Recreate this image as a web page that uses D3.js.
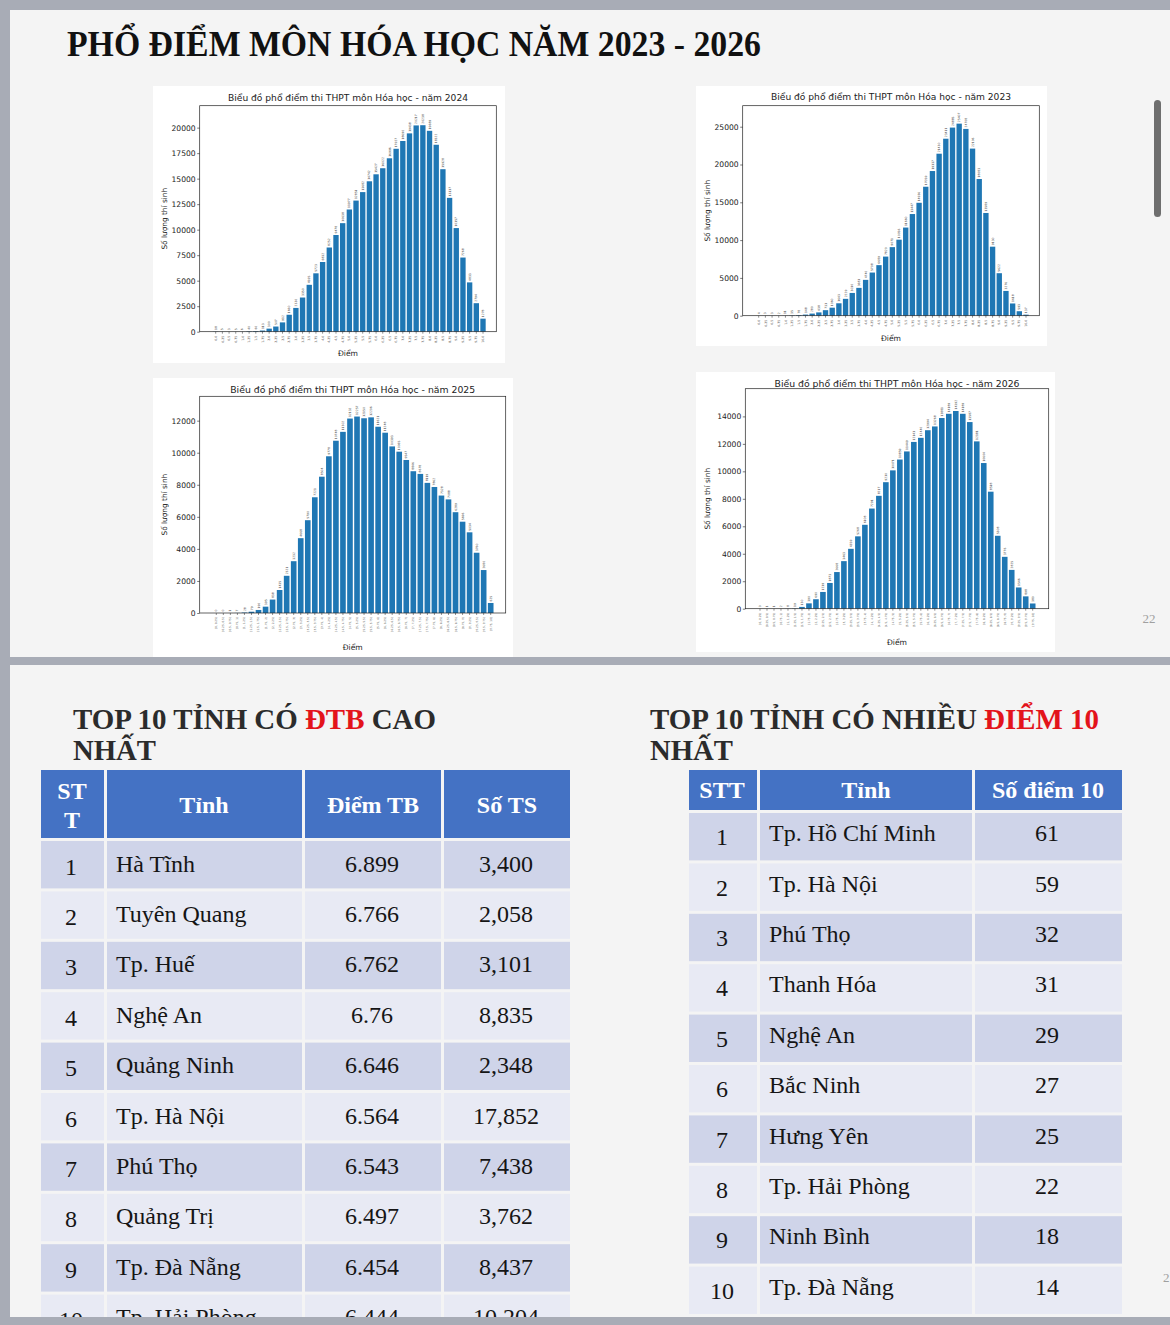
<!DOCTYPE html>
<html>
<head>
<meta charset="utf-8">
<script src="https://cdn.jsdelivr.net/npm/d3@7"></script>
<style>
body{margin:0;background:#a8acb6;}
svg{display:block;}
</style>
</head>
<body>
<svg id="page"></svg>
<script>
// ---- data ----
const scoreLabels = ["0.0","0.25","0.5","0.75","1.0","1.25","1.5","1.75","2.0","2.25","2.5","2.75","3.0","3.25","3.5","3.75","4.0","4.25","4.5","4.75","5.0","5.25","5.5","5.75","6.0","6.25","6.5","6.75","7.0","7.25","7.5","7.75","8.0","8.25","8.5","8.75","9.0","9.25","9.5","9.75","10.0"];
const binLabels = ["[0, 0.25)","[0.25, 0.5)","[0.5, 0.75)","[0.75, 1)","[1, 1.25)","[1.25, 1.5)","[1.5, 1.75)","[1.75, 2)","[2, 2.25)","[2.25, 2.5)","[2.5, 2.75)","[2.75, 3)","[3, 3.25)","[3.25, 3.5)","[3.5, 3.75)","[3.75, 4)","[4, 4.25)","[4.25, 4.5)","[4.5, 4.75)","[4.75, 5)","[5, 5.25)","[5.25, 5.5)","[5.5, 5.75)","[5.75, 6)","[6, 6.25)","[6.25, 6.5)","[6.5, 6.75)","[6.75, 7)","[7, 7.25)","[7.25, 7.5)","[7.5, 7.75)","[7.75, 8)","[8, 8.25)","[8.25, 8.5)","[8.5, 8.75)","[8.75, 9)","[9, 9.25)","[9.25, 9.5)","[9.5, 9.75)","[9.75, 10]"];

const counts2024 = [18,5,3,5,6,40,60,113,300,507,912,1660,2330,3350,4595,5723,6832,8252,9478,10638,11977,12851,13682,14742,15427,16022,16996,17927,18690,19438,20217,20238,19689,18322,15928,13117,10157,7268,4833,2794,1278];
const counts2023 = [4,3,3,2,11,35,78,148,280,438,731,1060,1643,2229,3010,3681,4740,5708,6689,7820,9071,10056,11660,13447,14936,17059,19137,21430,23411,24885,25407,24708,22106,18083,13589,9130,5622,3276,1618,593,137];
const counts2025 = [0,0,1,7,28,79,190,395,838,1435,2321,3232,4668,5790,7221,8504,9778,10748,11302,12132,12257,12150,12206,11621,11248,10393,10065,9547,8846,8678,8119,7862,7328,7088,6289,5696,5034,3760,2680,625];
const counts2026 = [0,1,1,2,8,19,130,390,690,1219,1873,2668,3463,4359,5268,6108,7291,8217,9210,10071,10859,11449,12141,12440,12994,13268,13881,14189,14392,14189,13587,12181,10604,8518,5308,3776,2825,1546,898,380];

const ticks2024 = [0,2500,5000,7500,10000,12500,15000,17500,20000];
const ticks2023 = [0,5000,10000,15000,20000,25000];
const ticks2025 = [0,2000,4000,6000,8000,10000,12000];
const ticks2026 = [0,2000,4000,6000,8000,10000,12000,14000];

const avgProvinces = ["Hà Tĩnh","Tuyên Quang","Tp. Huế","Nghệ An","Quảng Ninh","Tp. Hà Nội","Phú Thọ","Quảng Trị","Tp. Đà Nẵng","Tp. Hải Phòng"];
const avgScores = [6.899,6.766,6.762,6.76,6.646,6.564,6.543,6.497,6.454,6.444];
const avgCandidates = [3400,2058,3101,8835,2348,17852,7438,3762,8437,10204];

const perfectProvinces = ["Tp. Hồ Chí Minh","Tp. Hà Nội","Phú Thọ","Thanh Hóa","Nghệ An","Bắc Ninh","Hưng Yên","Tp. Hải Phòng","Ninh Bình","Tp. Đà Nẵng"];
const perfectCounts = [61,59,32,31,29,27,25,22,18,14];

// ---- page ----
const W = 1170, H = 1325;
const svg = d3.select("#page").attr("width", W).attr("height", H);
svg.append("rect").attr("width", W).attr("height", H).attr("fill", "#a8acb6");
svg.append("rect").attr("x", 10).attr("y", 10).attr("width", 1160).attr("height", 647).attr("fill", "#f4f4f4");
svg.append("rect").attr("x", 10).attr("y", 665).attr("width", 1160).attr("height", 652).attr("fill", "#f4f4f4");

// scrollbar and page number of slide 1
svg.append("rect").attr("x", 1154).attr("y", 100).attr("width", 7).attr("height", 117).attr("rx", 3.5).attr("fill", "#6e6e6e");
svg.append("text").attr("x", 1149).attr("y", 623).attr("text-anchor", "middle")
  .attr("font-family", "Liberation Serif").attr("font-size", 13).attr("fill", "#a0a0a0").text("22");

svg.append("text").attr("x", 67).attr("y", 56)
  .attr("font-family", "Liberation Serif").attr("font-weight", "bold").attr("font-size", 35)
  .attr("fill", "#111").attr("textLength", 694).attr("lengthAdjust", "spacingAndGlyphs")
  .text("PHỔ ĐIỂM MÔN HÓA HỌC NĂM 2023 - 2026");

// ---- histograms ----
const charts = [
  {title: "Biểu đồ phổ điểm thi THPT môn Hóa học - năm 2024", values: counts2024, labels: scoreLabels, ticks: ticks2024,
   box: [153, 86, 352, 277], frame: [199.7, 105.7, 496.3, 331.7], yMax: 22150, c: [215.7, 483], titleY: 97.7, titleW: 240, xlabY: 353, ylabX: 164, tickFs: 3.2},
  {title: "Biểu đồ phổ điểm thi THPT môn Hóa học - năm 2023", values: counts2023, labels: scoreLabels, ticks: ticks2023,
   box: [696, 86, 351, 260], frame: [742.7, 105.7, 1039.3, 315.7], yMax: 27780, c: [758.7, 1026], titleY: 96.5, titleW: 240, xlabY: 338, ylabX: 707, tickFs: 3.2},
  {title: "Biểu đồ phổ điểm thi THPT môn Hóa học - năm 2025", values: counts2025, labels: binLabels, ticks: ticks2025,
   box: [153, 378, 360, 279], frame: [199.7, 396.3, 505.7, 613], yMax: 13520, c: [216.3, 490.7], titleY: 389.7, titleW: 245, xlabY: 647, ylabX: 164, tickFs: 2.8},
  {title: "Biểu đồ phổ điểm thi THPT môn Hóa học - năm 2026", values: counts2026, labels: binLabels, ticks: ticks2026,
   box: [696, 372, 359, 280], frame: [745.3, 388.7, 1048.7, 608.7], yMax: 16016, c: [760, 1032.7], titleY: 383.7, titleW: 245, xlabY: 642, ylabX: 707, tickFs: 2.8}
];

function drawHist(cfg) {
  const g = svg.append("g").attr("font-family", "DejaVu Sans");
  const [bx, by, bw, bh] = cfg.box;
  g.append("rect").attr("x", bx).attr("y", by).attr("width", bw).attr("height", bh).attr("fill", "#fff");

  const [l, t, r, b] = cfg.frame;
  const n = cfg.values.length;
  const step = (cfg.c[1] - cfg.c[0]) / (n - 1);
  const x = d3.scaleBand().domain(cfg.labels)
    .range([cfg.c[0] - step / 2, cfg.c[1] + step / 2])
    .paddingInner(0.2).paddingOuter(0.1);
  const y = d3.scaleLinear().domain([0, cfg.yMax]).range([b, t]);

  g.selectAll("rect.bar").data(cfg.values).join("rect").attr("class", "bar")
    .attr("x", (d, i) => x(cfg.labels[i]))
    .attr("width", x.bandwidth())
    .attr("y", d => y(d))
    .attr("height", d => b - y(d))
    .attr("fill", "#1f77b4");

  // count on top of each bar
  g.selectAll("text.val").data(cfg.values).join("text").attr("class", "val")
    .attr("transform", (d, i) => "translate(" + (x(cfg.labels[i]) + x.bandwidth() / 2) + "," + (y(d) - 1.5) + ") rotate(-90)")
    .attr("dy", "0.35em")
    .attr("font-size", 3).attr("fill", "#444")
    .text(d => d);

  g.append("rect").attr("x", l).attr("y", t).attr("width", r - l).attr("height", b - t)
    .attr("fill", "none").attr("stroke", "#222").attr("stroke-width", 0.7);

  const ya = g.append("g").attr("transform", "translate(" + l + ",0)")
    .call(d3.axisLeft(y).tickValues(cfg.ticks).tickSize(2.5).tickPadding(1.5).tickFormat(d3.format("d")));
  ya.select(".domain").remove();
  ya.selectAll("line").attr("stroke", "#222").attr("stroke-width", 0.6);
  ya.selectAll("text").attr("font-size", 7.6).attr("fill", "#222").attr("font-family", "DejaVu Sans");

  const xa = g.append("g").attr("transform", "translate(0," + b + ")")
    .call(d3.axisBottom(x).tickSize(2).tickPadding(1));
  xa.select(".domain").remove();
  xa.selectAll("line").attr("stroke", "#222").attr("stroke-width", 0.5);
  xa.selectAll("text")
    .attr("transform", "rotate(-90)")
    .attr("x", -4).attr("y", 0).attr("dy", "0.35em")
    .attr("text-anchor", "end")
    .attr("font-size", cfg.tickFs).attr("fill", "#555").attr("font-family", "DejaVu Sans");

  g.append("text").attr("x", (l + r) / 2).attr("y", cfg.titleY).attr("dy", "0.35em")
    .attr("text-anchor", "middle").attr("font-size", 8.8).attr("fill", "#222")
    .attr("textLength", cfg.titleW).attr("lengthAdjust", "spacingAndGlyphs")
    .text(cfg.title);

  g.append("text").attr("x", (l + r) / 2).attr("y", cfg.xlabY).attr("dy", "0.35em")
    .attr("text-anchor", "middle").attr("font-size", 7.6).attr("fill", "#222").text("Điểm");

  g.append("text").attr("transform", "translate(" + cfg.ylabX + "," + ((t + b) / 2) + ") rotate(-90)")
    .attr("dy", "0.35em").attr("text-anchor", "middle").attr("font-size", 7.4).attr("fill", "#222")
    .text("Số lượng thí sinh");
}
charts.forEach(drawHist);

// ---- slide 2: headings ----
function heading(xp, parts, len) {
  const t = svg.append("text").attr("x", xp).attr("y", 729)
    .attr("font-family", "Liberation Serif").attr("font-weight", "bold").attr("font-size", 28.5)
    .attr("fill", "#2b2b2b").attr("textLength", len).attr("lengthAdjust", "spacingAndGlyphs");
  parts.forEach(p => t.append("tspan").attr("fill", p[1] ? "#e3131b" : "#2b2b2b").text(p[0]));
  svg.append("text").attr("x", xp).attr("y", 760)
    .attr("font-family", "Liberation Serif").attr("font-weight", "bold").attr("font-size", 28.5)
    .attr("fill", "#2b2b2b").attr("textLength", 83).attr("lengthAdjust", "spacingAndGlyphs").text("NHẤT");
}
heading(73, [["TOP 10 TỈNH CÓ ", false], ["ĐTB", true], [" CAO", false]], 363);
heading(650, [["TOP 10 TỈNH CÓ NHIỀU ", false], ["ĐIỂM 10", true]], 449);

// ---- tables ----
const rowStep = 50.4;
const darkRow = "#cfd4e9", lightRow = "#e8eaf4", headFill = "#4472c4";
const serif = "Liberation Serif";

function cellText(xp, yc, txt, anchor, bold, color, size) {
  svg.append("text").attr("x", xp).attr("y", yc + size * 0.34)
    .attr("text-anchor", anchor).attr("font-family", serif)
    .attr("font-weight", bold ? "bold" : "normal").attr("font-size", size)
    .attr("fill", color).text(txt);
}

// left table: average score
const lc = [[41, 104], [107, 302], [305, 441], [444, 570]];
lc.forEach(c => svg.append("rect").attr("x", c[0]).attr("y", 770).attr("width", c[1] - c[0]).attr("height", 68).attr("fill", headFill));
cellText(72, 791, "ST", "middle", true, "#fff", 24);
cellText(72, 820, "T", "middle", true, "#fff", 24);
cellText(204, 805, "Tỉnh", "middle", true, "#fff", 24);
cellText(373, 805, "Điểm TB", "middle", true, "#fff", 24);
cellText(507, 805, "Số TS", "middle", true, "#fff", 24);
const fmtThousands = d3.format(",");
avgProvinces.forEach((name, i) => {
  const top = 841 + i * rowStep;
  lc.forEach(c => svg.append("rect").attr("x", c[0]).attr("y", top).attr("width", c[1] - c[0]).attr("height", rowStep - 3)
    .attr("fill", i % 2 === 0 ? darkRow : lightRow));
  const yc = top + 22.5;
  cellText(71, yc + 3, String(i + 1), "middle", false, "#151515", 24);
  cellText(116, yc, name, "start", false, "#151515", 24);
  cellText(372, yc, String(avgScores[i]), "middle", false, "#151515", 24);
  cellText(506, yc, fmtThousands(avgCandidates[i]), "middle", false, "#151515", 24);
});

// right table: number of perfect scores
const rc = [[689, 757], [760, 972], [975, 1122]];
rc.forEach(c => svg.append("rect").attr("x", c[0]).attr("y", 770).attr("width", c[1] - c[0]).attr("height", 40).attr("fill", headFill));
cellText(722, 790, "STT", "middle", true, "#fff", 24);
cellText(866, 790, "Tỉnh", "middle", true, "#fff", 24);
cellText(1048, 790, "Số điểm 10", "middle", true, "#fff", 24);
perfectProvinces.forEach((name, i) => {
  const top = 813 + i * rowStep;
  rc.forEach(c => svg.append("rect").attr("x", c[0]).attr("y", top).attr("width", c[1] - c[0]).attr("height", rowStep - 3)
    .attr("fill", i % 2 === 0 ? darkRow : lightRow));
  const yc = top + 20;
  cellText(722, yc + 4, String(i + 1), "middle", false, "#151515", 24);
  cellText(769, yc, name, "start", false, "#151515", 24);
  cellText(1047, yc, String(perfectCounts[i]), "middle", false, "#151515", 24);
});

// page number peeking at right edge, bottom strip covering the cut rows
svg.append("text").attr("x", 1163).attr("y", 1282).attr("font-family", serif).attr("font-size", 13).attr("fill", "#a0a0a0").text("2");
svg.append("rect").attr("x", 0).attr("y", 1317).attr("width", W).attr("height", 8).attr("fill", "#a8acb6");
</script>
</body>
</html>
